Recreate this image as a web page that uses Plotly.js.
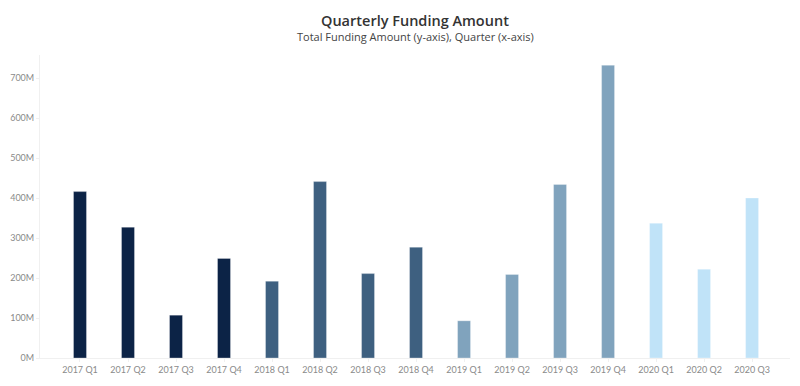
<!DOCTYPE html>
<html>
<head>
<meta charset="utf-8">
<script src="https://cdn.plot.ly/plotly-3.0.1.min.js"></script>
<style>html,body{margin:0;padding:0;background:#fff;}#chart{width:800px;height:386px;}</style>
</head>
<body>
<div id="chart"></div>
<script>
const quarters = ["2017 Q1","2017 Q2","2017 Q3","2017 Q4","2018 Q1","2018 Q2","2018 Q3","2018 Q4","2019 Q1","2019 Q2","2019 Q3","2019 Q4","2020 Q1","2020 Q2","2020 Q3"];
const fundingM = [416, 327, 107, 249, 192, 441, 211, 277, 93, 209, 434, 732, 337, 222, 400];
const yearColors = {"2017":"#0c2346","2018":"#3e6080","2019":"#80a3bd","2020":"#c0e3f8"};
const yTicks = [0,100,200,300,400,500,600,700];
const titleText = "Quarterly Funding Amount";
const subtitleText = "Total Funding Amount (y-axis), Quarter (x-axis)";

const colors = quarters.map(q => yearColors[q.slice(0,4)]);
const font = "Lato, 'Open Sans', sans-serif";

Plotly.newPlot('chart', [{
  type: 'bar',
  x: quarters,
  y: fundingM,
  width: 0.27,
  marker: {color: colors, line: {color: 'rgba(255,255,255,0.5)', width: 0.6}},
  hoverinfo: 'x+y'
}], {
  width: 800, height: 386,
  margin: {l: 40, r: 10, t: 55, b: 28, pad: 0},
  paper_bgcolor: '#fff', plot_bgcolor: '#fff',
  font: {family: font, color: '#888'},
  annotations: [
    {text: titleText, xref: 'paper', yref: 'paper', x: 0.5, xanchor: 'center',
     y: 1 + (55 - 20) / 303, yanchor: 'middle', showarrow: false,
     font: {family: "'Open Sans', sans-serif", size: 14.5, weight: 600, color: '#333'}},
    {text: subtitleText, xref: 'paper', yref: 'paper', x: 0.5, xanchor: 'center',
     y: 1 + (55 - 37) / 303, yanchor: 'middle', showarrow: false,
     font: {family: "'Open Sans', sans-serif", size: 11, color: '#444'}}
  ],
  xaxis: {
    type: 'category',
    range: [-0.833, 14.79],
    showgrid: false, zeroline: false,
    showline: true, linecolor: '#f0f0f0', linewidth: 1,
    ticks: 'outside', ticklen: 3, tickcolor: '#f0f0f0',
    tickfont: {family: font, size: 9, color: '#8a8a8a'},
    fixedrange: true
  },
  yaxis: {
    range: [0, 757.5],
    tickvals: yTicks,
    ticktext: yTicks.map(v => v + 'M'),
    showgrid: false, zeroline: false,
    showline: true, linecolor: '#f0f0f0', linewidth: 1,
    ticks: 'outside', ticklen: 3, tickcolor: '#f0f0f0',
    tickfont: {family: font, size: 9, color: '#8a8a8a'},
    fixedrange: true
  },
  showlegend: false,
  bargap: 0.7
}, {displayModeBar: false, staticPlot: true});
</script>
</body>
</html>
